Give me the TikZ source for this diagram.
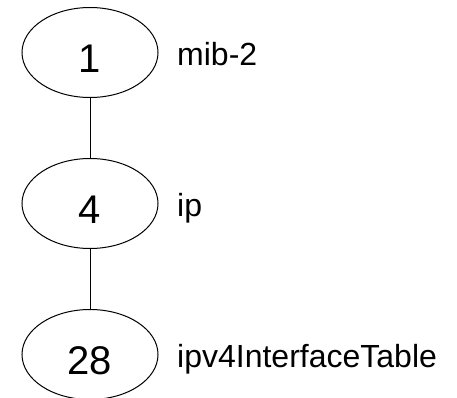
\documentclass[tikz,border=0pt]{standalone}
\usepackage{fontspec}
\setmainfont{Liberation Sans}
\usepackage{tikz}
\usetikzlibrary{shapes.geometric, positioning}

\tikzset{
	oidnode/.style={draw, ellipse, line width=1pt, minimum width=136pt, minimum height=90pt, inner sep=0pt, text height=40pt, text depth=0pt, font=\fontsize{40}{40}\selectfont},
	oidname/.style={anchor=base west, inner sep=0pt, font=\fontsize{32}{32}\selectfont}
}

\begin{document}
\begin{tikzpicture}[x=1pt, y=1pt]
			\useasboundingbox (0,0) rectangle (457,-398);
			
			\foreach \num/\name/\y in {1/mib-2/-52.5, 4/ip/-203.5, 28/ipv4InterfaceTable/-354.5}
			{
				\node [oidnode] (n\num) at (90, \y) {\num};
				\node [oidname] (l\num) at (177, \y-13) {\name};
			}
			
			\draw [line width=1pt] (n1) -- (n4);
			\draw [line width=1pt] (n4) -- (n28);
			\end{tikzpicture}
\end{document}
